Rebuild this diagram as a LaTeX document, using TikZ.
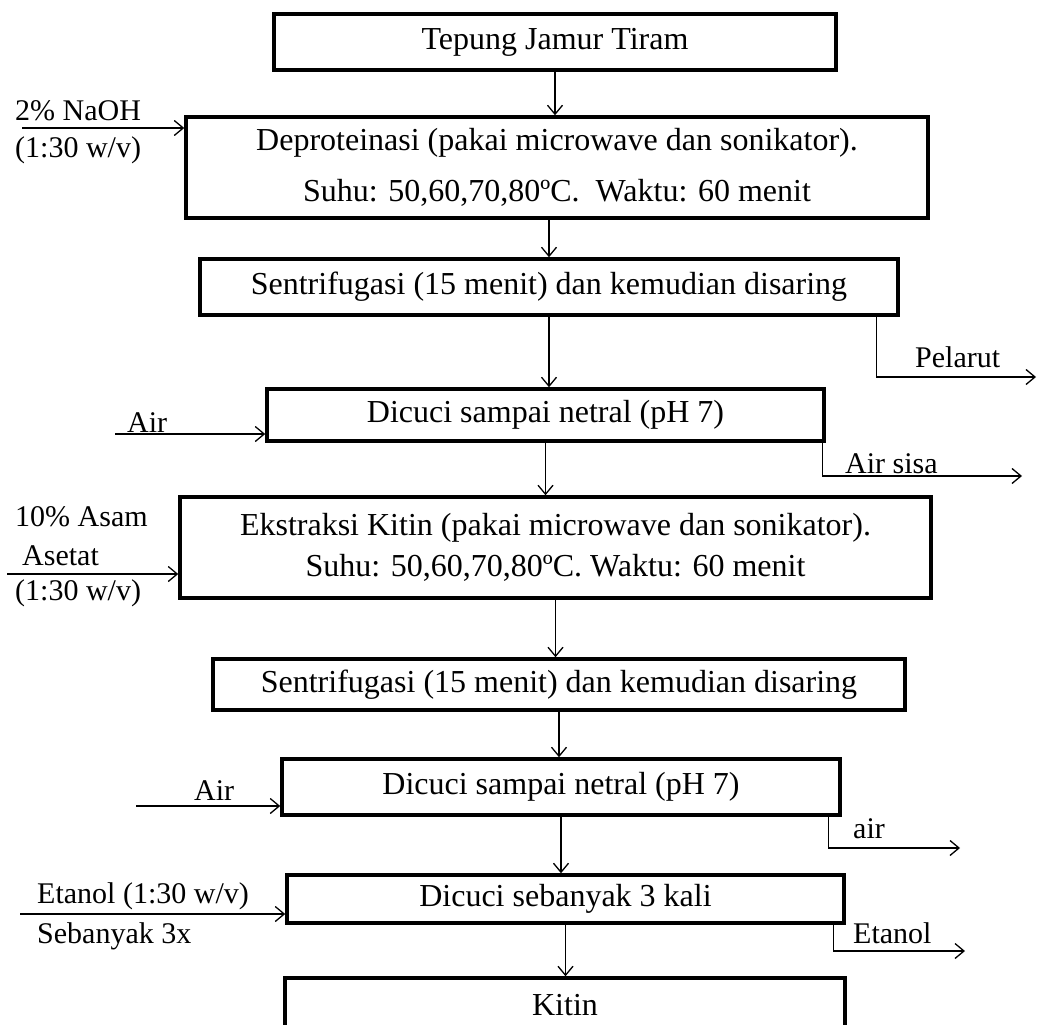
\documentclass[tikz,border=0pt]{standalone}
\usepackage{fontspec}
\setmainfont{Liberation Serif}
\usetikzlibrary{arrows.meta}

\tikzset{
  proses/.style={draw, line width=3.5pt, inner sep=0pt, align=center, font=\fontsize{32}{41}\selectfont},
  alur/.style={line width=1.3pt, -{Straight Barb[length=9pt,width=15pt]}},
  ket/.style={anchor=base west, inner sep=0pt, font=\fontsize{30}{36}\selectfont},
}

\begin{document}
\begin{tikzpicture}[x=1pt,y=-1pt]
    %\draw[very thin,color=gray] (0,0) grid[step=100] (1039,1025);
    \clip (0,0) rectangle (1039,1025);
    \node[proses, minimum width=562pt, minimum height=56pt] (tepung) at (555,42) {Tepung Jamur Tiram};
    \node[proses, minimum width=742pt, minimum height=101pt, font=\fontsize{32}{51}\selectfont] (deprot) at (557,167.5)
        {Deproteinasi (pakai microwave dan sonikator).\\ Suhu: 50,60,70,80ºC.\ \ Waktu: 60 menit};
    \node[proses, minimum width=698pt, minimum height=56pt] (sentri1) at (549,287) {Sentrifugasi (15 menit) dan kemudian disaring};
    \node[proses, minimum width=557pt, minimum height=52pt] (cuci1) at (545.5,415) {Dicuci sampai netral (pH 7)};
    \node[proses, minimum width=751pt, minimum height=101pt] (ekstrak) at (555.5,547.5)
        {Ekstraksi Kitin (pakai microwave dan sonikator).\\ Suhu: 50,60,70,80ºC. Waktu: 60 menit};
    \node[proses, minimum width=692pt, minimum height=51pt] (sentri2) at (559,684.5) {Sentrifugasi (15 menit) dan kemudian disaring};
    \node[proses, minimum width=558pt, minimum height=56pt] (cuci2) at (561,787) {Dicuci sampai netral (pH 7)};
    \node[proses, minimum width=557pt, minimum height=48pt] (cuci3) at (565.5,899) {Dicuci sebanyak 3 kali};
    \node[proses, minimum width=560pt, minimum height=54pt] (kitin) at (565,1005) {Kitin};

    \draw[alur] (tepung.south) -- (tepung.south |- deprot.north);
    \draw[alur] (sentri1.north |- deprot.south) -- (sentri1.north);
    \draw[alur] (sentri1.south) -- (sentri1.south |- cuci1.north);
    \draw[alur] (cuci1.south) -- (cuci1.south |- ekstrak.north);
    \draw[alur] (ekstrak.south) -- (ekstrak.south |- sentri2.north);
    \draw[alur] (sentri2.south) -- (sentri2.south |- cuci2.north);
    \draw[alur] (cuci2.south) -- (cuci2.south |- cuci3.north);
    \draw[alur] (cuci3.south) -- (cuci3.south |- kitin.north);

    \coordinate (naoh) at (22,128);
    \coordinate (air1) at (115,434);
    \coordinate (asam) at (7,574);
    \coordinate (air2) at (136,806);
    \coordinate (etanol) at (20,914);
    \draw[alur] (naoh) -- (naoh -| deprot.west);
    \draw[alur] (air1) -- (air1 -| cuci1.west);
    \draw[alur] (asam) -- (asam -| ekstrak.west);
    \draw[alur] (air2) -- (air2 -| cuci2.west);
    \draw[alur] (etanol) -- (etanol -| cuci3.west);

    \coordinate (pelarut) at (1036,377);
    \coordinate (sisa1) at (1022,476);
    \coordinate (sisa2) at (960,848);
    \coordinate (sisa3) at (965,951);
    \draw[alur] ([xshift=-23pt]sentri1.south east) |- (pelarut);
    \draw[alur] ([xshift=-3pt]cuci1.south east) |- (sisa1);
    \draw[alur] ([xshift=-13pt]cuci2.south east) |- (sisa2);
    \draw[alur] ([xshift=-12pt]cuci3.south east) |- (sisa3);

    \node[ket] (k1) at (15,120) {2\% NaOH};
    \node[ket] (k2) at (15,157) {(1:30 w/v)};
    \node[ket] (k3) at (127,432) {Air};
    \node[ket] (k4) at (15,526) {10\% Asam};
    \node[ket] (k5) at (22,565) {Asetat};
    \node[ket] (k6) at (15,600) {(1:30 w/v)};
    \node[ket] (k7) at (194,800) {Air};
    \node[ket] (k8) at (37,903) {Etanol (1:30 w/v)};
    \node[ket] (k9) at (37,943) {Sebanyak 3x};
    \node[ket] (k10) at (915,367) {Pelarut};
    \node[ket] (k11) at (845,473) {Air sisa};
    \node[ket] (k12) at (853,838) {air};
    \node[ket] (k13) at (853,943) {Etanol};
\end{tikzpicture}
\end{document}
